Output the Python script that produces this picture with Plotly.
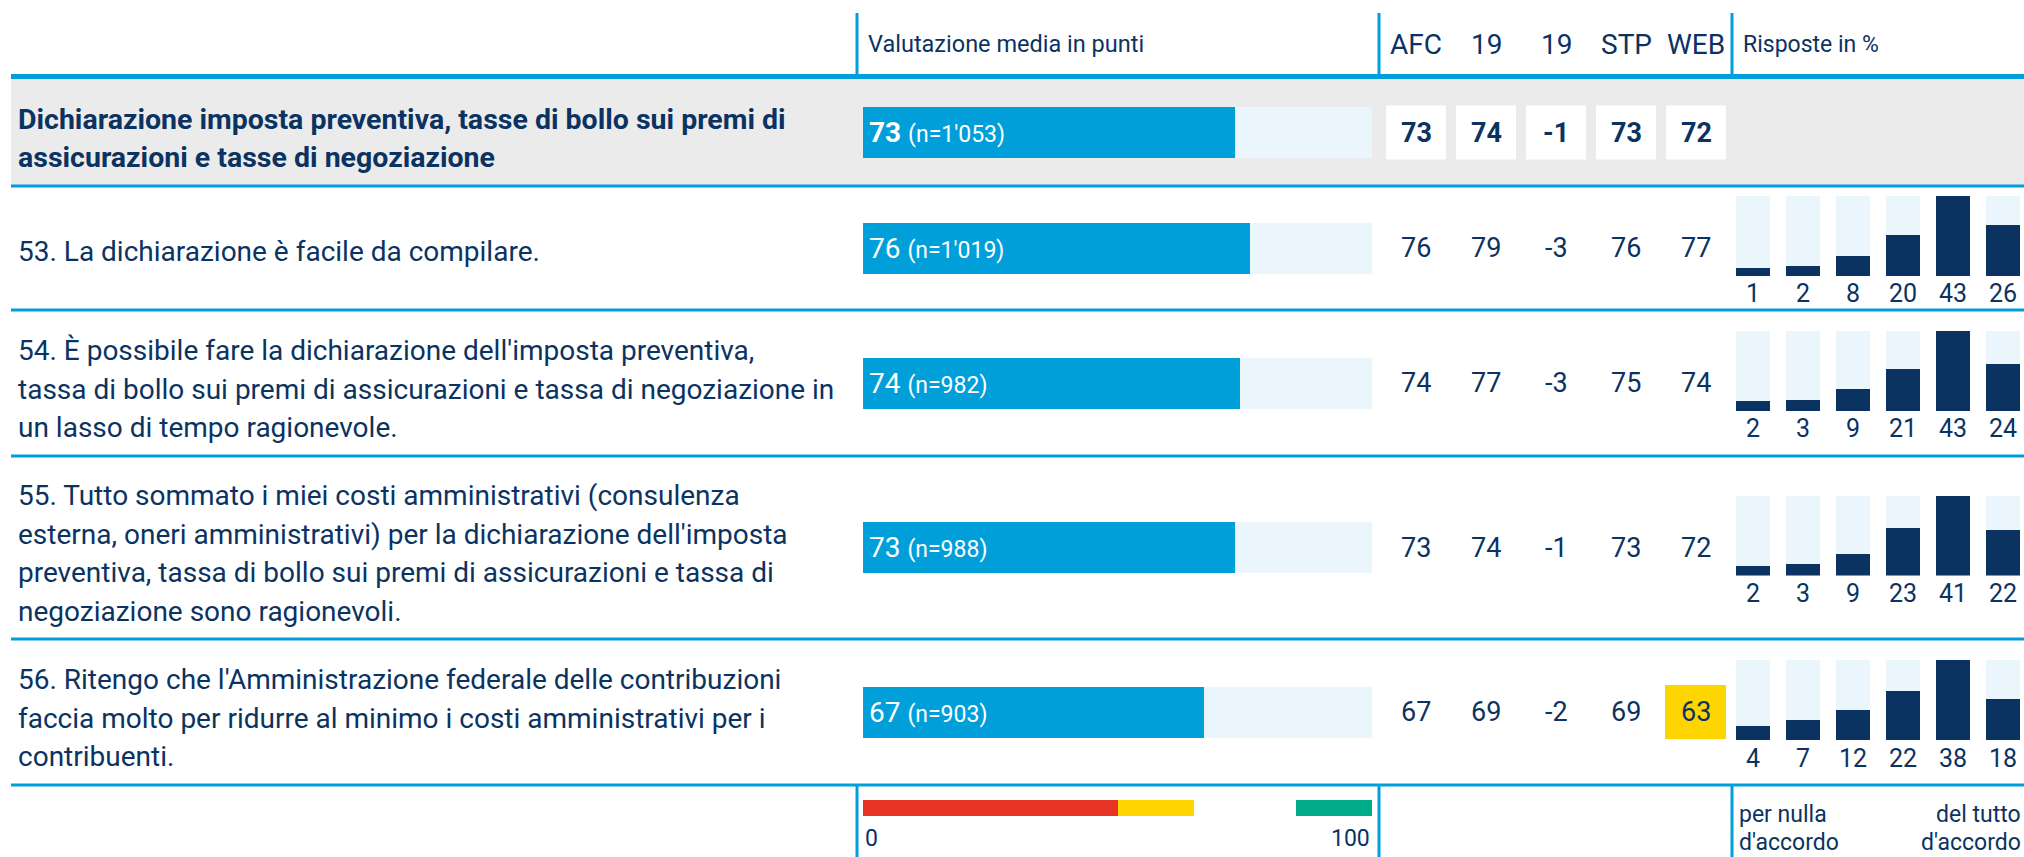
import plotly.graph_objects as go

# ---------------- data ----------------
items = [
    ["Dichiarazione imposta preventiva, tasse di bollo sui premi di",
     "assicurazioni e tasse di negoziazione"],
    ["53. La dichiarazione è facile da compilare."],
    ["54. È possibile fare la dichiarazione dell'imposta preventiva,",
     "tassa di bollo sui premi di assicurazioni e tassa di negoziazione in",
     "un lasso di tempo ragionevole."],
    ["55. Tutto sommato i miei costi amministrativi (consulenza",
     "esterna, oneri amministrativi) per la dichiarazione dell'imposta",
     "preventiva, tassa di bollo sui premi di assicurazioni e tassa di",
     "negoziazione sono ragionevoli."],
    ["56. Ritengo che l'Amministrazione federale delle contribuzioni",
     "faccia molto per ridurre al minimo i costi amministrativi per i",
     "contribuenti."],
]
mean_score = [73, 76, 74, 73, 67]
n_resp = ["1'053", "1'019", "982", "988", "903"]
col_headers = ["AFC", "19", "19", "STP", "WEB"]
afc = [73, 76, 74, 73, 67]
y19 = [74, 79, 77, 74, 69]
diff19 = [-1, -3, -3, -1, -2]
stp = [73, 76, 75, 73, 69]
web = [72, 77, 74, 72, 63]
web_highlight = [False, False, False, False, True]
resp_cats = [1, 2, 3, 4, 5, 6]
responses = [
    None,
    [1, 2, 8, 20, 43, 26],
    [2, 3, 9, 21, 43, 24],
    [2, 3, 9, 23, 41, 22],
    [4, 7, 12, 22, 38, 18],
]
scale_limits = [0, 50, 65, 85, 100]          # red / yellow / (gap) / green
scale_colors = ["#E63323", "#FFD500", "rgba(0,0,0,0)", "#00AB8A"]
scale_labels = ["0", "100"]
resp_low = ["per nulla", "d'accordo"]
resp_high = ["del tutto", "d'accordo"]

# ---------------- style / layout ----------------
W, H = 2024, 857
NAVY = "#0B3362"
BLUE = "#009FDA"
LIGHT = "#EAF5FC"
GREY = "#EBEBEB"
FONT = "Roboto, Lato, sans-serif"

row_edges = [79, 186, 310, 456, 639, 785]
row_centers = [(row_edges[i] + row_edges[i + 1]) / 2 for i in range(5)]
col_x = [1416, 1486, 1556, 1626, 1696]
bar_x0, bar_x1 = 863, 1372
resp_x0 = 1728
STUB = 0.085   # minimum visible stub of each response bar (fraction of row max)
LINE_H = 38.5


def px(x):
    return x / W


def py(y):
    return 1 - y / H


fig = go.Figure()

# mean bars (x: 0-100 score, y: pixel rows)
fig.add_trace(go.Bar(x=[100] * 5, y=row_centers, orientation="h", width=51,
                     marker=dict(color=LIGHT, line_width=0), xaxis="x", yaxis="y",
                     hoverinfo="skip", showlegend=False))
fig.add_trace(go.Bar(x=mean_score, y=row_centers, orientation="h", width=51,
                     marker=dict(color=BLUE, line_width=0), xaxis="x", yaxis="y",
                     showlegend=False))
# colour scale legend
fig.add_trace(go.Bar(x=[scale_limits[i + 1] - scale_limits[i] for i in range(4)],
                     base=scale_limits[:4], y=[808] * 4, orientation="h", width=16,
                     marker=dict(color=scale_colors, line_width=0), xaxis="x", yaxis="y",
                     hoverinfo="skip", showlegend=False))

layout_axes = {}
layout_axes["xaxis"] = dict(domain=[px(bar_x0), px(bar_x1)], range=[0, 100], visible=False,
                            fixedrange=True)
layout_axes["yaxis"] = dict(domain=[0, 1], range=[H, 0], visible=False, fixedrange=True)

annotations = []
shapes = []

# response distribution mini bar charts
ax = 2
for r, vals in enumerate(responses):
    if vals is None:
        continue
    c = row_centers[r] - 12
    top, bot = c - 40, c + 40
    vmax = max(vals)
    pad = STUB * vmax
    xa, ya = f"x{ax}", f"y{ax}"
    fig.add_trace(go.Bar(x=resp_cats, y=[vmax + pad] * 6, base=-pad, width=0.68,
                         marker=dict(color=LIGHT, line_width=0), xaxis=xa, yaxis=ya,
                         hoverinfo="skip", showlegend=False))
    fig.add_trace(go.Bar(x=resp_cats, y=[v + pad for v in vals], base=-pad, width=0.68,
                         marker=dict(color=NAVY, line_width=0), xaxis=xa, yaxis=ya,
                         customdata=vals, hovertemplate="%{customdata}%<extra></extra>",
                         showlegend=False))
    layout_axes[f"xaxis{ax}"] = dict(domain=[px(resp_x0), 1], range=[0.5, 6.42],
                                     visible=False, fixedrange=True, anchor=ya)
    layout_axes[f"yaxis{ax}"] = dict(domain=[py(bot), py(top)], range=[-pad, vmax],
                                     visible=False, fixedrange=True, anchor=xa)
    for k, v in zip(resp_cats, vals):
        annotations.append(dict(x=k, y=py(bot + 18), xref=xa, yref="paper", text=str(v),
                                showarrow=False, font=dict(size=25, color=NAVY, family=FONT),
                                xanchor="center", yanchor="middle"))
    ax += 1

# backgrounds and rules
shapes.append(dict(type="rect", xref="paper", yref="paper", x0=px(11), x1=1,
                   y0=py(row_edges[1]), y1=py(row_edges[0]), fillcolor=GREY, line_width=0,
                   layer="below"))
shapes.append(dict(type="rect", xref="paper", yref="paper", x0=px(11), x1=1,
                   y0=py(79), y1=py(74), fillcolor=BLUE, line_width=0))
for yv in row_edges[1:]:
    shapes.append(dict(type="rect", xref="paper", yref="paper", x0=px(11), x1=1,
                       y0=py(yv + 1.5), y1=py(yv - 1.5), fillcolor=BLUE, line_width=0))
for xv in [857, 1379, 1732]:
    for (ya0, ya1) in [(13, 74), (785, 857)]:
        shapes.append(dict(type="rect", xref="paper", yref="paper", x0=px(xv - 1.5),
                           x1=px(xv + 1.5), y0=py(ya1), y1=py(ya0), fillcolor=BLUE,
                           line_width=0))

# header texts
HY = 44
annotations.append(dict(x=px(866), y=py(HY), xref="paper", yref="paper",
                        text="Valutazione media in punti", showarrow=False,
                        xanchor="left", yanchor="middle",
                        font=dict(size=23.5, color=NAVY, family=FONT)))
for cx, h in zip(col_x, col_headers):
    annotations.append(dict(x=px(cx), y=py(HY), xref="paper", yref="paper", text=h,
                            showarrow=False, xanchor="center", yanchor="middle",
                            font=dict(size=28, color=NAVY, family=FONT)))
annotations.append(dict(x=px(1741), y=py(HY), xref="paper", yref="paper",
                        text="Risposte in %", showarrow=False, xanchor="left",
                        yanchor="middle", font=dict(size=23, color=NAVY, family=FONT)))

# row texts
cols = [afc, y19, diff19, stp, web]
for r in range(5):
    lines = items[r]
    nl = len(lines)
    tc = row_centers[r] + (3 if nl == 1 else 6)
    for i, ln in enumerate(lines):
        yy = tc + (i - (nl - 1) / 2) * LINE_H
        txt = f"<b>{ln}</b>" if r == 0 else ln
        annotations.append(dict(x=px(16), y=py(yy), xref="paper", yref="paper", text=txt,
                                showarrow=False, xanchor="left", yanchor="middle",
                                align="left",
                                font=dict(size=28.5 if r == 0 else 28, color=NAVY,
                                          family=FONT)))
    score_txt = (f"<b>{mean_score[r]}</b>" if r == 0 else f"{mean_score[r]}")
    annotations.append(dict(x=0, y=row_centers[r], xref="x", yref="y",
                            text=f"{score_txt} <span style='font-size:23px'>(n={n_resp[r]})</span>",
                            showarrow=False, xanchor="left", yanchor="middle", xshift=4,
                            font=dict(size=28, color="white", family=FONT)))
    for ci, (cx, colvals) in enumerate(zip(col_x, cols)):
        v = colvals[r]
        if r == 0:
            shapes.append(dict(type="rect", xref="paper", yref="paper", x0=px(cx - 30),
                               x1=px(cx + 30), y0=py(row_centers[r] + 27),
                               y1=py(row_centers[r] - 27), fillcolor="white", line_width=0))
        if ci == 4 and web_highlight[r]:
            shapes.append(dict(type="rect", xref="paper", yref="paper", x0=px(cx - 31),
                               x1=px(cx + 30), y0=py(row_centers[r] + 27),
                               y1=py(row_centers[r] - 27), fillcolor="#FFD500", line_width=0))
        txt = f"<b>{v}</b>" if r == 0 else str(v)
        annotations.append(dict(x=px(cx), y=py(row_centers[r]), xref="paper", yref="paper",
                                text=txt, showarrow=False, xanchor="center",
                                yanchor="middle",
                                font=dict(size=27, color=NAVY, family=FONT)))

# footer texts
annotations.append(dict(x=0, y=838, xref="x", yref="y", text=scale_labels[0],
                        showarrow=False, xanchor="left", yanchor="middle",
                        font=dict(size=23, color=NAVY, family=FONT)))
annotations.append(dict(x=100, y=838, xref="x", yref="y", text=scale_labels[1],
                        showarrow=False, xanchor="right", yanchor="middle",
                        font=dict(size=23, color=NAVY, family=FONT)))
for i, (lo, hi) in enumerate(zip(resp_low, resp_high)):
    yy = 814 + i * 28.5
    annotations.append(dict(x=px(1737), y=py(yy), xref="paper", yref="paper", text=lo,
                            showarrow=False, xanchor="left", yanchor="middle",
                            font=dict(size=23, color=NAVY, family=FONT)))
    annotations.append(dict(x=px(2023), y=py(yy), xref="paper", yref="paper", text=hi,
                            showarrow=False, xanchor="right", yanchor="middle",
                            font=dict(size=23, color=NAVY, family=FONT)))

fig.update_layout(
    width=W, height=H, margin=dict(l=0, r=0, t=0, b=0),
    paper_bgcolor="white", plot_bgcolor="rgba(0,0,0,0)",
    barmode="overlay", bargap=0, showlegend=False,
    shapes=shapes, annotations=annotations,
    font=dict(family=FONT, color=NAVY),
    **layout_axes,
)

fig.write_html("out.html", config={"displayModeBar": False},
               post_script="document.body.style.margin='0';document.body.style.overflow='hidden';")
